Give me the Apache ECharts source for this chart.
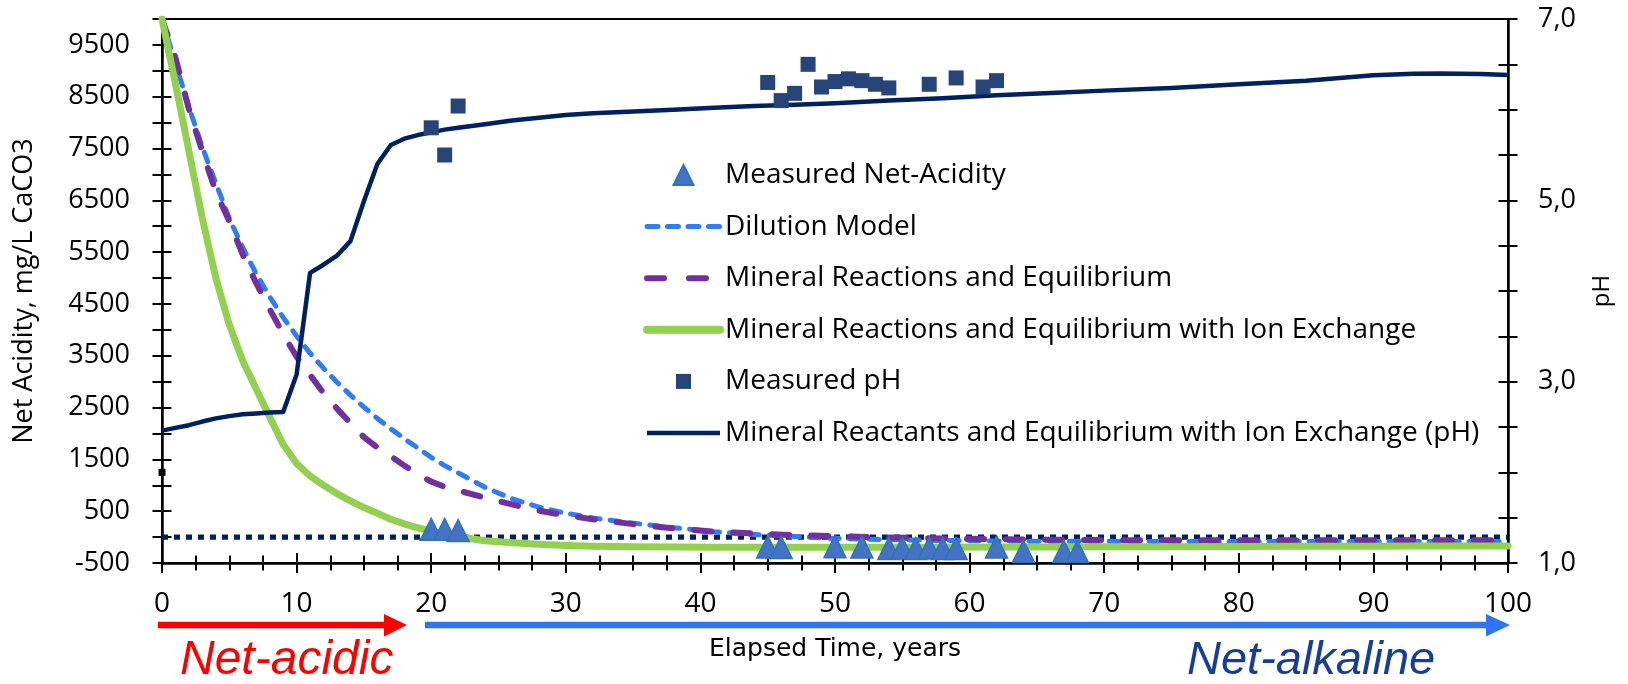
<!DOCTYPE html>
<html>
<head>
<meta charset="utf-8">
<script src="https://cdn.jsdelivr.net/npm/echarts@6.0.0/dist/echarts.min.js"></script>
<style>
  html, body { margin: 0; padding: 0; background: #ffffff; }
  #chart { width: 1628px; height: 684px; }
</style>
</head>
<body>
<div id="chart"></div>
<script>
// Years at which the model curves are tabulated
const modelYears = [0,1,2,3,4,5,6,7,8,9,10,11,12,13,14,15,16,17,18,19,20,21,22,
  24,26,28,30,32,35,38,41,44,47,50,54,58,62,66,70,75,80,85,90,93,95,98,100];

// Net acidity, mg/L CaCO3
const dilutionModel = [10000,9150,8300,7520,6830,6150,5590,5080,4640,4240,3880,3550,3260,2990,2740,2510,2290,2090,1900,1720,1540,1380,1240,
  960,740,580,460,370,270,180,105,50,10,-25,-50,-65,-75,-80,-82,-85,-85,-85,-85,-85,-85,-85,-85];
const mineralEquilibrium = [10000,9250,8260,7440,6660,6100,5450,4900,4400,3920,3480,3130,2780,2480,2200,1930,1730,1560,1380,1220,1070,970,900,
  760,630,510,420,345,250,170,105,70,38,18,-8,-28,-42,-52,-58,-60,-60,-60,-60,-60,-60,-60,-60];
const mineralIonExchange = [10000,8750,7450,6150,5000,4100,3400,2860,2320,1790,1420,1180,1000,840,700,570,460,345,255,180,115,55,5,
  -70,-110,-140,-160,-175,-185,-192,-195,-196,-196,-196,-195,-194,-192,-190,-188,-185,-182,-178,-175,-173,-172,-171,-170];

// Modelled pH (ion exchange case)
const modelPH = [2.46,2.49,2.52,2.56,2.595,2.62,2.64,2.65,2.66,2.665,3.08,4.20,4.29,4.39,4.55,4.99,5.40,5.61,5.68,5.72,5.75,5.78,5.80,
  5.84,5.88,5.91,5.94,5.96,5.98,6.00,6.02,6.04,6.055,6.07,6.10,6.125,6.16,6.185,6.21,6.24,6.28,6.32,6.38,6.397,6.40,6.393,6.382];

// Field measurements
const acidityYears = [20,21,22,45,46,50,52,54,55,56,57,58,59,62,64,67,68];
const measuredAcidity = [150,150,125,-190,-200,-185,-190,-220,-210,-220,-210,-220,-220,-190,-275,-275,-275];
const phYears = [20,21,22,45,46,47,48,49,50,51,52,53,54,57,59,61,62];
const measuredPH = [5.80,5.50,6.04,6.30,6.10,6.18,6.50,6.25,6.31,6.34,6.32,6.28,6.24,6.28,6.35,6.25,6.32];
const initialYears = [0];
const initialPH = [2.0];

// Neutral (zero net acidity) reference
const neutralYears = [0, 100];
const neutralAcidity = [0, 0];

// Axis tick labels
const acidityTickLabels = [-500,500,1500,2500,3500,4500,5500,6500,7500,8500,9500];
const phTickLabels = [1, 3, 5, 7];

const pair = (xs, ys) => xs.map((x, i) => [x, ys[i]]);
const FONT = '"Open Sans", sans-serif';
const BLACK = '#000000';

// Series styles (shared by the plot and the legend keys)
const dilutionLine = { color: '#2F7CF6', width: 5, type: [10, 10], cap: 'round', join: 'round' };
const equilibriumLine = { color: '#7030A0', width: 6, type: [17, 22], cap: 'round', join: 'round' };
const ionExchangeLine = { color: '#92D050', width: 7, cap: 'round', join: 'round' };
const phLine = { color: '#002060', width: 4.5, join: 'round' };

const chart = echarts.init(document.getElementById('chart'), null, { renderer: 'canvas' });

const tickStyle = { color: BLACK, width: 2 };
const hiddenAxisParts = { axisLabel: { show: false }, splitLine: { show: false }, minorSplitLine: { show: false } };

const option = {
  animation: false,
  backgroundColor: '#ffffff',
  grid: {
    left: 162, right: 120, top: 19, bottom: 121,
    show: true, borderColor: BLACK, borderWidth: 2, backgroundColor: 'transparent',
    containLabel: false, outerBoundsMode: 'none'
  },
  legend: {
    orient: 'vertical',
    left: 643, top: 159, padding: 0,
    itemWidth: 73, itemHeight: 20, itemGap: 19.6,
    selectedMode: false,
    symbolKeepAspect: true,
    textStyle: { fontFamily: FONT, fontSize: 28, color: BLACK, lineHeight: 32 },
    data: [
      { name: 'Measured Net-Acidity', icon: 'path://M0,0M73,20M36.5,0L46.5,20L26.5,20Z' },
      { name: 'Dilution Model', itemStyle: { opacity: 0 },
        lineStyle: Object.assign({}, dilutionLine, { type: [11, 9.5] }) },
      { name: 'Mineral Reactions and Equilibrium', itemStyle: { opacity: 0 },
        lineStyle: Object.assign({}, equilibriumLine, { type: [17, 25] }) },
      { name: 'Mineral Reactions and Equilibrium with Ion Exchange', itemStyle: { opacity: 0 },
        lineStyle: Object.assign({}, ionExchangeLine, { width: 8 }) },
      { name: 'Measured pH', icon: 'path://M0,0M73,20M29,2.5h15v15h-15z' },
      { name: 'Mineral Reactants and Equilibrium with Ion Exchange (pH)', itemStyle: { opacity: 0 },
        lineStyle: Object.assign({}, phLine) }
    ]
  },
  xAxis: [
    {
      type: 'value', min: 0, max: 100, interval: 10, position: 'bottom',
      name: 'Elapsed Time, years', nameLocation: 'middle', nameGap: 74,
      nameTextStyle: { fontFamily: '"DejaVu Sans", sans-serif', fontSize: 25, color: BLACK },
      axisLine: { show: true, onZero: false, lineStyle: { color: BLACK, width: 2.5 } },
      axisTick: { show: true, length: 10, lineStyle: tickStyle },
      minorTick: { show: true, splitNumber: 4, length: 7.5, lineStyle: tickStyle },
      axisLabel: { fontFamily: FONT, fontSize: 28, color: BLACK, margin: 27 },
      splitLine: { show: false }, minorSplitLine: { show: false }
    },
    Object.assign({
      type: 'value', min: 0, max: 100, interval: 10, position: 'bottom',
      axisLine: { show: false, onZero: false },
      axisTick: { show: true, inside: true, length: 10, lineStyle: tickStyle },
      minorTick: { show: true, splitNumber: 4, length: 7.5, lineStyle: tickStyle }
    }, hiddenAxisParts)
  ],
  yAxis: [
    {
      type: 'value', min: -500, max: 10000, interval: 500, position: 'left',
      name: 'Net Acidity, mg/L CaCO3', nameLocation: 'middle', nameRotate: 90, nameGap: 124,
      nameTextStyle: { fontFamily: FONT, fontSize: 27, color: BLACK },
      axisLine: { show: true, onZero: false, lineStyle: { color: BLACK, width: 2.5 } },
      axisTick: { show: true, length: 9.5, lineStyle: tickStyle },
      axisLabel: {
        fontFamily: FONT, fontSize: 27, color: BLACK, margin: 32,
        formatter: v => acidityTickLabels.includes(v) ? String(v) : ''
      },
      splitLine: { show: false }
    },
    {
      type: 'value', min: 1, max: 7, interval: 0.5, position: 'right',
      name: 'pH', nameLocation: 'middle', nameRotate: 90, nameGap: 82,
      nameTextStyle: { fontFamily: FONT, fontSize: 24, color: BLACK },
      axisLine: { show: true, onZero: false, lineStyle: { color: BLACK, width: 2.5 } },
      axisTick: { show: true, length: 9.5, lineStyle: tickStyle },
      axisLabel: {
        fontFamily: FONT, fontSize: 27, color: BLACK, margin: 30,
        formatter: v => phTickLabels.includes(v) ? v.toFixed(1).replace('.', ',') : ''
      },
      splitLine: { show: false }
    },
    Object.assign({
      type: 'value', min: -500, max: 10000, interval: 500, position: 'left',
      axisLine: { show: false, onZero: false },
      axisTick: { show: true, inside: true, length: 9.5, lineStyle: tickStyle }
    }, hiddenAxisParts),
    Object.assign({
      type: 'value', min: 1, max: 7, interval: 0.5, position: 'right',
      axisLine: { show: false, onZero: false },
      axisTick: { show: true, inside: true, length: 9.5, lineStyle: tickStyle }
    }, hiddenAxisParts)
  ],
  series: [
    {
      name: 'Neutral', type: 'line', xAxisIndex: 0, yAxisIndex: 0, z: 2,
      data: pair(neutralYears, neutralAcidity), symbol: 'none', silent: true,
      lineStyle: { color: '#002060', width: 5.3, type: [6, 6], cap: 'butt' }
    },
    {
      name: 'Dilution Model', type: 'line', xAxisIndex: 0, yAxisIndex: 0, z: 3,
      data: pair(modelYears, dilutionModel), symbol: 'none', silent: true,
      lineStyle: dilutionLine
    },
    {
      name: 'Mineral Reactions and Equilibrium', type: 'line', xAxisIndex: 0, yAxisIndex: 0, z: 4,
      data: pair(modelYears, mineralEquilibrium), symbol: 'none', silent: true,
      lineStyle: equilibriumLine
    },
    {
      name: 'Mineral Reactions and Equilibrium with Ion Exchange', type: 'line', xAxisIndex: 0, yAxisIndex: 0, z: 5,
      data: pair(modelYears, mineralIonExchange), symbol: 'none', silent: true,
      lineStyle: ionExchangeLine
    },
    {
      name: 'Mineral Reactants and Equilibrium with Ion Exchange (pH)', type: 'line', xAxisIndex: 0, yAxisIndex: 1, z: 6,
      data: pair(modelYears, modelPH), symbol: 'none', silent: true,
      lineStyle: phLine
    },
    {
      name: 'Measured Net-Acidity', type: 'scatter', xAxisIndex: 0, yAxisIndex: 0, z: 7,
      data: pair(acidityYears, measuredAcidity), symbol: 'triangle', symbolSize: 22, silent: true,
      itemStyle: { color: '#4472C4', borderColor: '#2E75B6', borderWidth: 1.5, opacity: 1 }
    },
    {
      name: 'Measured pH', type: 'scatter', xAxisIndex: 0, yAxisIndex: 1, z: 8,
      data: pair(phYears, measuredPH), symbol: 'rect', symbolSize: 15, silent: true,
      itemStyle: { color: '#264478', opacity: 1 }
    },
    {
      name: 'Initial pH', type: 'scatter', xAxisIndex: 0, yAxisIndex: 1, z: 8,
      data: pair(initialYears, initialPH), symbol: 'rect', symbolSize: 7, silent: true,
      itemStyle: { color: BLACK, opacity: 1 }
    }
  ],
  graphic: [
    {
      type: 'polygon', silent: true,
      shape: { points: [[158, 621.7], [384, 621.7], [384, 614], [407, 625], [384, 636.5], [384, 628.3], [158, 628.3]] },
      style: { fill: '#FF0000' }
    },
    {
      type: 'polygon', silent: true,
      shape: { points: [[425, 621.7], [1486, 621.7], [1486, 614], [1510, 625], [1486, 636.5], [1486, 628.3], [425, 628.3]] },
      style: { fill: '#2F75F2' }
    },
    {
      type: 'text', x: 180, y: 661, silent: true,
      style: {
        text: 'Net-acidic', font: 'italic 48px "Liberation Sans", Arial, sans-serif', fill: '#FF0000',
        align: 'left', verticalAlign: 'middle', textAlign: 'left', textVerticalAlign: 'middle'
      }
    },
    {
      type: 'text', x: 1187, y: 661, silent: true,
      style: {
        text: 'Net-alkaline', font: 'italic 47px "Liberation Sans", Arial, sans-serif', fill: '#153E98',
        align: 'left', verticalAlign: 'middle', textAlign: 'left', textVerticalAlign: 'middle'
      }
    }
  ]
};

chart.setOption(option);
</script>
</body>
</html>
